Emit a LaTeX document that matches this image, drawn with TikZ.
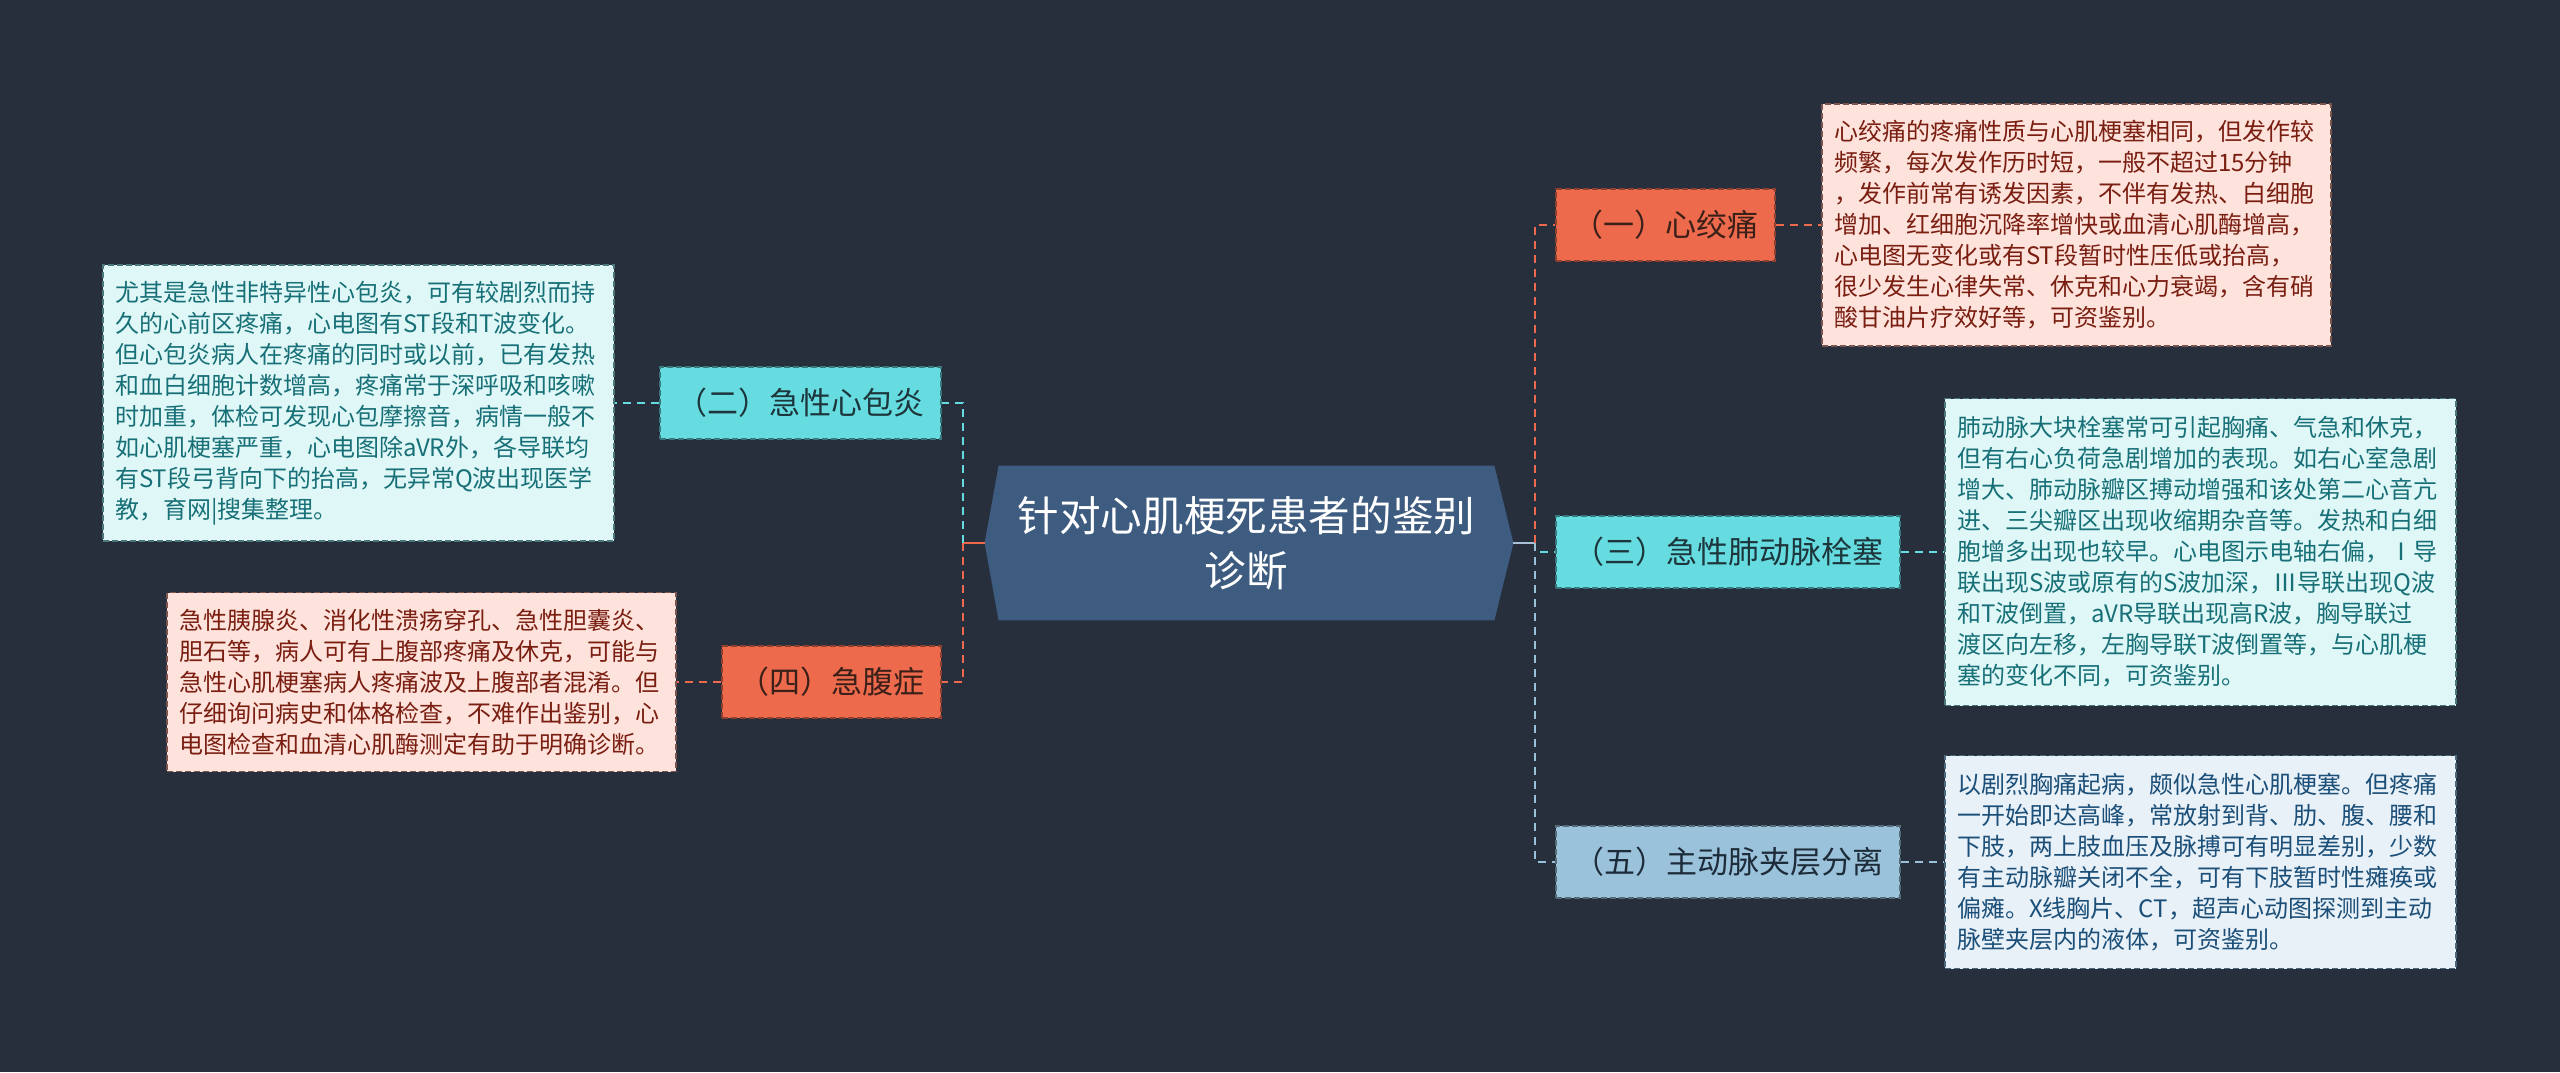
\documentclass[tikz,border=0pt]{standalone}
\usepackage{fontspec}
\setmainfont{Noto Sans CJK SC}
\usetikzlibrary{calc}
\definecolor{bg}{HTML}{272F3D}
\definecolor{centerfill}{HTML}{3E5B80}
\definecolor{orangec}{HTML}{EE6A4D}
\definecolor{cyanc}{HTML}{66DCE0}
\definecolor{bluec}{HTML}{9AC2DB}
\definecolor{stubc}{HTML}{A9C2D9}
\definecolor{pinkfill}{HTML}{FDE3DB}
\definecolor{pinktext}{HTML}{7A1E12}
\definecolor{cyanfill}{HTML}{E0F7F7}
\definecolor{cyantext}{HTML}{177077}
\definecolor{bluefill}{HTML}{E8F0F8}
\definecolor{bluetext}{HTML}{1B4F78}
\definecolor{darkorange}{HTML}{3A2018}
\definecolor{darkcyan}{HTML}{1C363C}
\definecolor{darkblue}{HTML}{1E2C3A}
\begin{document}
\begin{tikzpicture}[x=0.5pt,y=-0.5pt,
  branch/.style={rectangle, minimum height=36pt, inner sep=0pt,
    font=\fontsize{15.5}{18}\selectfont, dash pattern=on 3pt off 1.5pt, line width=0.8pt},
  textbox/.style={rectangle, align=left, inner xsep=6pt, inner ysep=4pt,
    font=\fontsize{12}{15.5}\selectfont, dash pattern=on 3pt off 1.5pt, line width=0.7pt},
  conn/.style={line width=1.3pt, dash pattern=on 4pt off 3pt},
  orangebox/.style={branch, fill=orangec, draw=orangec!60!black, text=darkorange},
  cyanbox/.style={branch, fill=cyanc, draw=cyanc!55!black, text=darkcyan},
  bluebox/.style={branch, fill=bluec, draw=bluec!55!black, text=darkblue},
  pinkbox/.style={textbox, fill=pinkfill, draw=pinktext!45!gray, text=pinktext},
  lcyanbox/.style={textbox, fill=cyanfill, draw=cyantext!50!gray, text=cyantext},
  lbluebox/.style={textbox, fill=bluefill, draw=bluetext!50!gray, text=bluetext}
]
\fill[bg] (0,0) rectangle (2560,1072);
\useasboundingbox (0,0) rectangle (2560,1072);

% center node
\node[rectangle, minimum width=247.5pt, minimum height=77pt, inner sep=0pt] (center) at (1246.5,543) {};
\fill[centerfill] (center.north west) -- (center.north east) -- ($(center.east)+(19,0)$)
  -- (center.south east) -- (center.south west) -- ($(center.west)+(-14,0)$) -- cycle;
\node[align=center, text=white, font=\fontsize{20.8}{27.5}\selectfont] (title) at (center.center)
  {针对心肌梗死患者的鉴别\\诊断};
\coordinate (cl) at ($(center.west)+(-14,0)$);
\coordinate (cr) at ($(center.east)+(19,0)$);

% branch nodes
\node[orangebox, minimum width=109.5pt] (b1) at (1665.5,225) {（一）心绞痛};
\node[cyanbox, minimum width=172pt] (b3) at (1728,552) {（三）急性肺动脉栓塞};
\node[bluebox, minimum width=172pt] (b5) at (1728,862) {（五）主动脉夹层分离};
\node[cyanbox, minimum width=140.5pt] (b2) at (800.5,403) {（二）急性心包炎};
\node[orangebox, minimum width=109.5pt] (b4) at (831.5,682) {（四）急腹症};

% text boxes
\node[pinkbox, text width=242.5pt, minimum height=121pt] (t1) at (2076.5,225)
{心绞痛的疼痛性质与心肌梗塞相同，但发作较\\
频繁，每次发作历时短，一般不超过15分钟\\
，发作前常有诱发因素，不伴有发热、白细胞\\
增加、红细胞沉降率增快或血清心肌酶增高，\\
心电图无变化或有ST段暂时性压低或抬高，\\
很少发生心律失常、休克和心力衰竭，含有硝\\
酸甘油片疗效好等，可资鉴别。};

\node[lcyanbox, text width=243.5pt, minimum height=153.5pt] (t3) at (2200.5,552)
{肺动脉大块栓塞常可引起胸痛、气急和休克，\\
但有右心负荷急剧增加的表现。如右心室急剧\\
增大、肺动脉瓣区搏动增强和该处第二心音亢\\
进、三尖瓣区出现收缩期杂音等。发热和白细\\
胞增多出现也较早。心电图示电轴右偏，Ⅰ导\\
联出现S波或原有的S波加深，Ⅲ导联出现Q波\\
和T波倒置，aVR导联出现高R波，胸导联过\\
渡区向左移，左胸导联T波倒置等，与心肌梗\\
塞的变化不同，可资鉴别。};

\node[lbluebox, text width=243.5pt, minimum height=106.5pt] (t5) at (2200.5,862)
{以剧烈胸痛起病，颇似急性心肌梗塞。但疼痛\\
一开始即达高峰，常放射到背、肋、腹、腰和\\
下肢，两上肢血压及脉搏可有明显差别，少数\\
有主动脉瓣关闭不全，可有下肢暂时性瘫痪或\\
偏瘫。X线胸片、CT，超声心动图探测到主动\\
脉壁夹层内的液体，可资鉴别。};

\node[lcyanbox, text width=243.5pt, minimum height=138pt] (t2) at (358.5,403)
{尤其是急性非特异性心包炎，可有较剧烈而持\\
久的心前区疼痛，心电图有ST段和T波变化。\\
但心包炎病人在疼痛的同时或以前，已有发热\\
和血白细胞计数增高，疼痛常于深呼吸和咳嗽\\
时加重，体检可发现心包摩擦音，病情一般不\\
如心肌梗塞严重，心电图除aVR外，各导联均\\
有ST段弓背向下的抬高，无异常Q波出现医学\\
教，育网|搜集整理。};

\node[pinkbox, text width=242.5pt, minimum height=89.5pt] (t4) at (421.5,682)
{急性胰腺炎、消化性溃疡穿孔、急性胆囊炎、\\
胆石等，病人可有上腹部疼痛及休克，可能与\\
急性心肌梗塞病人疼痛波及上腹部者混淆。但\\
仔细询问病史和体格检查，不难作出鉴别，心\\
电图检查和血清心肌酶测定有助于明确诊断。};

% junctions
\coordinate (lj) at (963,543);
\coordinate (rj) at (1535,543);

% connectors
\draw[line width=1.3pt, orangec] (cl) -- (lj);
\draw[line width=1.3pt, stubc] (cr) -- (rj);
\draw[conn, cyanc] (lj) |- (b2.east);
\draw[conn, orangec] (lj) |- (b4.east);
\draw[conn, orangec] (rj) |- (b1.west);
\draw[conn, cyanc] (rj) |- (b3.west);
\draw[conn, bluec] (rj) |- (b5.west);
\draw[conn, orangec] (b1.east) -- (t1.west);
\draw[conn, cyanc] (b3.east) -- (t3.west);
\draw[conn, bluec] (b5.east) -- (t5.west);
\draw[conn, cyanc] (b2.west) -- (t2.east);
\draw[conn, orangec] (b4.west) -- (t4.east);
\end{tikzpicture}
\end{document}
